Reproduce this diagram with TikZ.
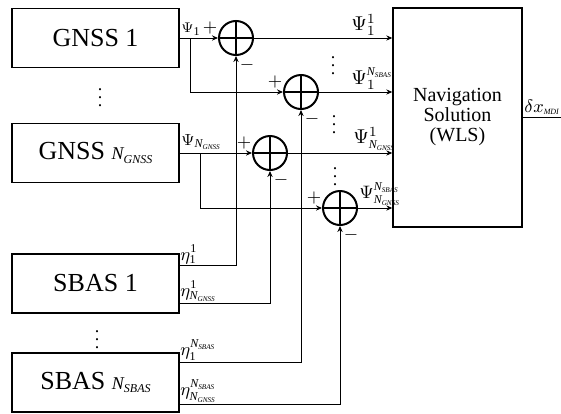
\documentclass[tikz,border=0pt]{standalone}
\usepackage{fontspec}
\setmainfont{Liberation Serif}
\usetikzlibrary{positioning,arrows.meta,calc}
\newcommand{\subtxt}[1]{\mbox{\itshape\fontsize{6}{6}\selectfont N\raisebox{-0.35ex}{\fontsize{3.6}{4}\selectfont #1}}}
\newcommand{\one}{\mbox{\fontsize{6}{6}\selectfont 1}}
\tikzset{
  blk/.style   = {draw, line width=0.7pt, minimum width=83.5pt, minimum height=29.5pt,
                  inner sep=0pt, font=\fontsize{13}{15}\selectfont},
  sumnode/.style = {circle, draw, line width=1pt, minimum size=17pt, inner sep=0pt,
                  path picture={\draw[line width=1pt]
                    (path picture bounding box.north) -- (path picture bounding box.south)
                    (path picture bounding box.west) -- (path picture bounding box.east);}},
  flow/.style  = {->, line width=0.5pt, >={Stealth[length=3pt,width=2.6pt]}},
  wire/.style  = {line width=0.5pt},
  io/.style    = {inner sep=0.5pt, anchor=south west},
  sgn/.style   = {inner sep=0pt, font=\small},
  vdot/.style  = {inner sep=0pt, font=\small},
}
\begin{document}
\begin{tikzpicture}[x=0.5pt,y=-0.5pt]
    \useasboundingbox (0,0) rectangle (561,413);
    % receivers
    \node[blk] (gnss1) at (95.5,38) {GNSS 1};
    \node[blk] (gnssN) at (95.5,153) {GNSS {\fontsize{9}{9}\selectfont\itshape N\raisebox{-0.4ex}{\fontsize{6}{6}\selectfont GNSS}}};
    \node[blk] (sbas1) at (95.5,283.5) {SBAS 1};
    \node[blk] (sbasN) at (95.5,382.5) {SBAS {\fontsize{9}{9}\selectfont\itshape N\raisebox{-0.4ex}{\fontsize{6}{6}\selectfont SBAS}}};
    \node[vdot] (dotsA) at (100,92) {$\vdots$};
    \node[vdot] (dotsB) at (97,334) {$\vdots$};
    % navigation solution
    \node[draw, line width=0.7pt, minimum width=64.5pt, minimum height=109.5pt,
          align=center, font=\fontsize{10}{10}\selectfont] (nav) at (457.5,117.5)
      {Navigation\\Solution\\(WLS)};
    % summing junctions
    \node[sumnode] (s1) at (236,38) {};
    \node[sumnode] (s2) at (301,92) {};
    \node[sumnode] (s3) at (270,153) {};
    \node[sumnode] (s4) at (340,208) {};
    \foreach \s in {s1,s2,s3,s4}{
      \node[sgn] at ($(\s)+(-26,-10)$) {$+$};
      \node[sgn] at ($(\s)+(11,27)$) {$-$};}
    % pseudorange inputs
    \coordinate (b1) at (190,38);
    \coordinate (b2) at (200,153);
    \draw[flow] (gnss1.east) -- (s1.west);
    \draw[flow] (b1) |- (s2.west);
    \draw[flow] (gnssN.east) -- (s3.west);
    \draw[flow] (b2) |- (s4.west);
    \node[io, font=\scriptsize] at (180,37) {$\Psi_{\one}$};
    \node[io, font=\footnotesize] at (180,151) {$\Psi_{\subtxt{GNSS}}$};
    % corrections
    \coordinate (e1) at (179,265);
    \coordinate (e2) at (179,303);
    \coordinate (e3) at (179,362);
    \coordinate (e4) at (179,404);
    \draw[flow] (e1) -| (s1.south);
    \draw[flow] (e2) -| (s3.south);
    \draw[flow] (e3) -| (s2.south);
    \draw[flow] (e4) -| (s4.south);
    \node[io, font=\small] at (e1) {$\eta_{\one}^{\one}$};
    \node[io, font=\small] at (e2) {$\eta_{\subtxt{GNSS}}^{\one}$};
    \node[io, font=\small] at (e3) {$\eta_{\one}^{\subtxt{SBAS}}$};
    \node[io, font=\small] at (e4) {$\eta_{\subtxt{GNSS}}^{\subtxt{SBAS}}$};
    % corrected pseudoranges
    \draw[flow] (s1.east) -- (s1 -| nav.west);
    \draw[flow] (s2.east) -- (s2 -| nav.west);
    \draw[flow] (s3.east) -- (s3 -| nav.west);
    \draw[flow] (s4.east) -- (s4 -| nav.west);
    \node[io] at (350,37) {$\Psi_1^1$};
    \node[io] at (350,91) {$\Psi_1^{\subtxt{SBAS}}$};
    \node[io] at (352,152) {$\Psi_{\subtxt{GNSS}}^1$};
    \node[io, font=\small] at (358,207) {$\Psi_{\subtxt{GNSS}}^{\subtxt{SBAS}}$};
    \node[vdot] (dotsC) at (333,60) {$\vdots$};
    \node[vdot] (dotsD) at (334,119) {$\vdots$};
    \node[vdot] (dotsE) at (335,171) {$\vdots$};
    % output
    \coordinate (out) at (561,117);
    \draw[wire] (nav.east |- out) -- (out);
    \node[io, font=\small] at (523,116) {$\delta x_{\mbox{\itshape\fontsize{4}{4}\selectfont MDI}}$};
\end{tikzpicture}
\end{document}
